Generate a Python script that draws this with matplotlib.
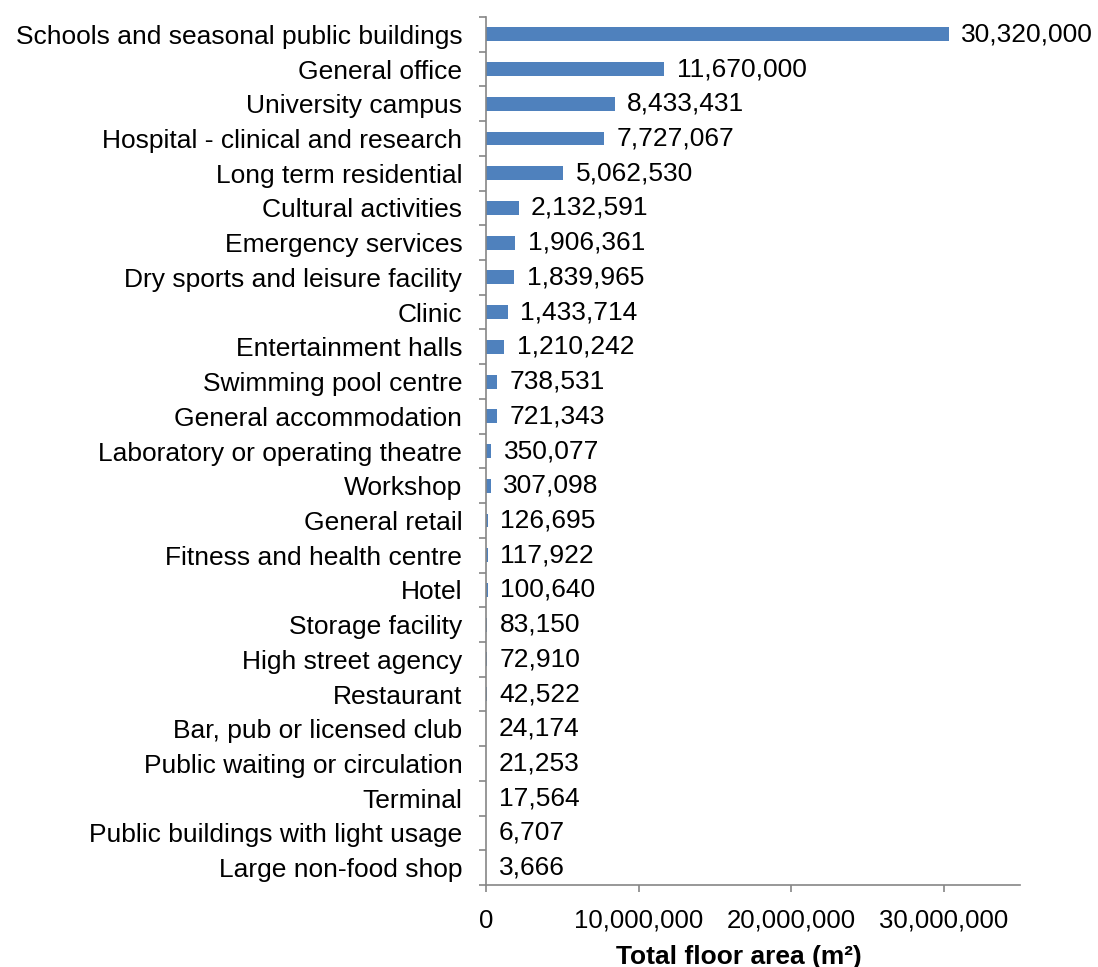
import matplotlib
matplotlib.use('Agg')
import matplotlib.pyplot as plt
from matplotlib.ticker import FuncFormatter

plt.rcParams['font.family'] = ['Liberation Sans', 'DejaVu Sans']

categories = [
    'Schools and seasonal public buildings',
    'General office',
    'University campus',
    'Hospital - clinical and research',
    'Long term residential',
    'Cultural activities',
    'Emergency services',
    'Dry sports and leisure facility',
    'Clinic',
    'Entertainment halls',
    'Swimming pool centre',
    'General accommodation',
    'Laboratory or operating theatre',
    'Workshop',
    'General retail',
    'Fitness and health centre',
    'Hotel',
    'Storage facility',
    'High street agency',
    'Restaurant',
    'Bar, pub or licensed club',
    'Public waiting or circulation',
    'Terminal',
    'Public buildings with light usage',
    'Large non-food shop',
]
floor_area = [
    30320000, 11670000, 8433431, 7727067, 5062530, 2132591, 1906361,
    1839965, 1433714, 1210242, 738531, 721343, 350077, 307098, 126695,
    117922, 100640, 83150, 72910, 42522, 24174, 21253, 17564, 6707, 3666,
]
x_ticks = [0, 10000000, 20000000, 30000000]

fig = plt.figure(figsize=(10.98, 9.67), dpi=100)
ax = fig.add_axes([0.4426, 0.0848, 0.4864, 0.8976])

pos = list(range(len(categories)))
ax.barh(pos, floor_area, height=0.4, color='#4F81BD')
ax.set_ylim(len(categories) - 0.5, -0.5)
ax.set_xlim(0, 35000000)

for p, v in zip(pos, floor_area):
    ax.annotate(f'{v:,}', xy=(v, p), xytext=(9, 0), textcoords='offset points',
                va='center', ha='left', fontsize=19)

# category labels centred on bars, tick marks on the boundaries
ax.set_yticks(pos)
ax.set_yticklabels(categories, fontsize=19)
ax.tick_params(axis='y', length=0, pad=17)
ax.set_yticks([p - 0.5 for p in pos] + [len(pos) - 0.5], minor=True)
ax.tick_params(axis='y', which='minor', length=5, color='#868686', width=1.2)

ax.set_xticks(x_ticks)
ax.xaxis.set_major_formatter(FuncFormatter(lambda v, _: f'{int(v):,}'))
ax.tick_params(axis='x', labelsize=18.5, length=5, color='#868686', width=1.2, pad=12)
ax.set_xlabel('Total floor area (m²)', fontsize=19, fontweight='bold', labelpad=9)
ax.xaxis.label.set_x(0.474)

for side in ['top', 'right']:
    ax.spines[side].set_visible(False)
for side in ['left', 'bottom']:
    ax.spines[side].set_color('#868686')
    ax.spines[side].set_linewidth(1.2)

fig.savefig('out.png', dpi=100)
